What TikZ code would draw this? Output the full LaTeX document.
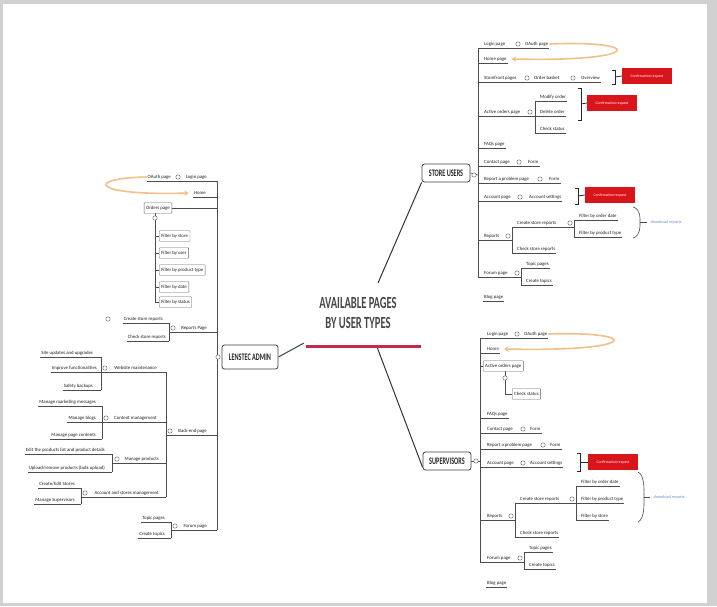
\documentclass[tikz,border=0pt]{standalone}
\usepackage{fontspec}
\setmainfont{Carlito}
\newfontfamily\titlefont[FakeStretch=0.62]{Carlito}
\usetikzlibrary{arrows, arrows.meta}
\usetikzlibrary{calc}

\definecolor{confred}{HTML}{D9141B}
\definecolor{hubred}{HTML}{C42A4C}
\definecolor{arrorange}{HTML}{F2C089}
\definecolor{sumblue}{HTML}{6F8FCB}
\definecolor{branchgreen}{HTML}{2F4A3A}

\pgfdeclarelayer{frame}
\pgfdeclarelayer{links}
\pgfsetlayers{frame,links,main}

\tikzset{
  topic/.style={font=\fontsize{4.8}{5}\selectfont, text=black!88, inner xsep=1pt, inner ysep=1.4pt, text height=3.4pt, text depth=1.1pt},
  rtopic/.style={topic, anchor=west},
  ltopic/.style={topic, anchor=east},
  boxtopic/.style={topic, draw=black!60, line width=0.45pt, rounded corners=0.6pt, inner xsep=2pt, inner ysep=3pt},
  fold/.style={circle, draw=black!60, fill=white, line width=0.45pt, inner sep=0pt, minimum size=4.4pt},
  link/.style={draw=black!70, line width=0.6pt},
  usertype/.style={draw=black!75, line width=0.8pt, fill=white, rounded corners=2.5pt, font={\titlefont\bfseries\fontsize{10}{11}\selectfont}, text=black!85, minimum width=48pt, minimum height=18pt},
  confirm/.style={fill=confred, text=white, font=\fontsize{3.8}{4}\selectfont, minimum width=50pt, minimum height=16.5pt, inner sep=1pt},
  sumtext/.style={font=\fontsize{4.3}{5}\selectfont, text=sumblue, anchor=west},
  brk/.style={draw=black!85, line width=0.8pt},
  back/.style={draw=arrorange, line width=1.6pt, -{Stealth[length=4.5pt,width=5.5pt]}},
  branch/.style={draw=black!80, line width=1pt},
  title/.style={align=center, font={\titlefont\bfseries\fontsize{17}{20}\selectfont}, text=black!72}
}

\begin{document}
\begin{tikzpicture}[x=1pt, y=-1pt]
\useasboundingbox (0,0) rectangle (717,606);
\begin{pgfonlayer}{frame}
  \fill[black!18] (0,0) rectangle (717,606);
  \fill[white] (3,4) rectangle (707,603);
\end{pgfonlayer}

% centre
\node[title] (title) at (358,313) {AVAILABLE PAGES\\BY USER TYPES};
\coordinate (hubL) at (306,346);
\coordinate (hubR) at (421,346);
\coordinate (hubSU) at (378,283);
\coordinate (hubSV) at (377,347);
\coordinate (hubLA) at (304,343);
\draw[draw=hubred, line width=3pt] (hubL) -- (hubR);

% store users
\node[usertype] (su) at (446,173) {STORE USERS};
\node[fold] (suF) at (474,175) {};
\coordinate (suSp) at (478,0);

\node[rtopic] (sLogin) at (483,44) {Login page};
\node[fold] (sLoginF) at (518,44) {};
\node[rtopic] (sOAuth) at (524,44) {OAuth page};
\node[rtopic] (sHome) at (483,59) {Home page};
\node[rtopic] (sFront) at (483,78) {Storefront pages};
\node[fold] (sFrontF) at (527,78) {};
\node[rtopic] (sBasket) at (533,78) {Order basket};
\node[fold] (sBasketF) at (573,78) {};
\node[rtopic] (sOver) at (580,78) {Overview};
\node[confirm] (sConf1) at (647,76) {Confirmation request};
\node[rtopic] (sActive) at (483,112) {Active orders page};
\node[fold] (sActiveF) at (530,112) {};
\coordinate (sActS) at (535,0);
\node[rtopic] (sModify) at (539,97) {Modify order};
\node[rtopic] (sDelete) at (539,112) {Delete order};
\node[rtopic] (sStatus) at (539,129) {Check status};
\node[confirm] (sConf2) at (612,103) {Confirmation request};
\node[rtopic] (sFaq) at (483,144) {FAQs page};
\node[rtopic] (sContact) at (483,162) {Contact page};
\node[fold] (sContactF) at (519,162) {};
\node[rtopic] (sForm1) at (527,162) {Form};
\node[rtopic] (sReport) at (483,179) {Report a problem page};
\node[fold] (sReportF) at (540,179) {};
\node[rtopic] (sForm2) at (548,179) {Form};
\node[rtopic] (sAccount) at (483,197) {Account page};
\node[fold] (sAccountF) at (520,197) {};
\node[rtopic] (sSettings) at (528,197) {Account settings};
\node[confirm] (sConf3) at (610,195) {Confirmation request};
\node[rtopic] (sReports) at (483,236) {Reports};
\node[fold] (sReportsF) at (508,236) {};
\coordinate (sRepS) at (512,0);
\node[rtopic] (sCreate) at (516,223) {Create store reports};
\node[fold] (sCreateF) at (570,223) {};
\coordinate (sCreS) at (574,0);
\node[rtopic] (sFdate) at (578,216) {Filter by order date};
\node[rtopic] (sFtype) at (578,233) {Filter by product type};
\node[sumtext] (sDown) at (647,222) {download reports};
\node[rtopic] (sCheckR) at (516,249) {Check store reports};
\node[rtopic] (sForum) at (483,273) {Forum page};
\node[fold] (sForumF) at (517,273) {};
\coordinate (sForS) at (521,0);
\node[rtopic] (sTopic) at (525,264) {Topic pages};
\node[rtopic] (sCreateT) at (525,281) {Create topics};
\node[rtopic] (sBlog) at (483,297) {Blog page};

% supervisors
\node[usertype] (sv) at (447,461) {SUPERVISORS};
\node[fold] (svF) at (476,461) {};
\coordinate (svSp) at (480,0);

\node[rtopic] (vLogin) at (486,334) {Login page};
\node[fold] (vLoginF) at (517,334) {};
\node[rtopic] (vOAuth) at (523,334) {OAuth page};
\node[rtopic] (vHome) at (486,349) {Home};
\node[boxtopic, anchor=west] (vActive) at (483,366) {Active orders page};
\node[fold] (vActiveF) at (505,378) {};
\node[boxtopic, anchor=west] (vStatus) at (512,394) {Check status};
\node[rtopic] (vFaq) at (486,414) {FAQs page};
\node[rtopic] (vContact) at (486,429) {Contact page};
\node[fold] (vContactF) at (523,429) {};
\node[rtopic] (vForm1) at (529,429) {Form};
\node[rtopic] (vReport) at (486,445) {Report a problem page};
\node[fold] (vReportF) at (543,445) {};
\node[rtopic] (vForm2) at (549,445) {Form};
\node[rtopic] (vAccount) at (486,463) {Account page};
\node[fold] (vAccountF) at (523,463) {};
\node[rtopic] (vSettings) at (529,463) {Account settings};
\node[confirm] (vConf) at (613,462) {Confirmation request};
\node[rtopic] (vReports) at (486,516) {Reports};
\node[fold] (vReportsF) at (511,516) {};
\coordinate (vRepS) at (515,0);
\node[rtopic] (vCreate) at (519,499) {Create store reports};
\node[fold] (vCreateF) at (572,499) {};
\coordinate (vCreS) at (576,0);
\node[rtopic] (vFdate) at (580,482) {Filter by order date};
\node[rtopic] (vFtype) at (580,499) {Filter by product type};
\node[rtopic] (vFstore) at (580,516) {Filter by store};
\node[sumtext] (vDown) at (650,497) {download reports};
\node[rtopic] (vCheckR) at (519,533) {Check store reports};
\node[rtopic] (vForum) at (486,558) {Forum page};
\node[fold] (vForumF) at (520,558) {};
\coordinate (vForS) at (524,0);
\node[rtopic] (vTopic) at (528,548) {Topic pages};
\node[rtopic] (vCreateT) at (528,565) {Create topics};
\node[rtopic] (vBlog) at (486,583) {Blog page};

% lenstec admin
\node[usertype, minimum width=56pt, minimum height=24pt] (la) at (250,357) {LENSTEC ADMIN};
\node[fold] (laF) at (218,357) {};
\coordinate (laSp) at (217,0);

\node[ltopic] (lLogin) at (208,177) {Login page};
\node[fold] (lLoginF) at (178,177) {};
\node[ltopic] (lOAuth) at (172,177) {OAuth page};
\node[ltopic] (lHome) at (207,193) {Home};
\node[boxtopic, anchor=east] (lOrders) at (172,208) {Orders page};
\node[fold] (lOrdersF) at (155,218) {};
\coordinate (lOrdS) at (155,0);
\node[boxtopic, anchor=west] (lFstore) at (159,236) {Filter by store};
\node[boxtopic, anchor=west] (lFuser) at (159,253) {Filter by user};
\node[boxtopic, anchor=west] (lFtype) at (159,270) {Filter by product type};
\node[boxtopic, anchor=west] (lFdate) at (159,287) {Filter by date};
\node[boxtopic, anchor=west] (lFstatus) at (159,302) {Filter by status};
\node[ltopic] (lReports) at (208,328) {Reports Page};
\node[fold] (lReportsF) at (173,328) {};
\coordinate (lRepS) at (169,0);
\node[ltopic] (lCreate) at (164,319) {Create store reports};
\node[fold] (lCreateF) at (108,319) {};
\node[ltopic] (lCheckR) at (167,337) {Check store reports};
\node[ltopic] (lBack) at (208,431) {Back-end page};
\node[fold] (lBackF) at (170,431) {};
\coordinate (lBackS) at (166,0);
\node[ltopic] (lWeb) at (158,368) {Website maintenance};
\node[fold] (lWebF) at (105,368) {};
\coordinate (lWebS) at (101,0);
\node[ltopic] (lSite) at (94,353) {Site updates and upgrades};
\node[ltopic] (lImprove) at (98,368) {Improve functionalities};
\node[ltopic] (lSafety) at (94,386) {Safety backups};
\node[ltopic] (lContent) at (158,418) {Content management};
\node[fold] (lContentF) at (106,418) {};
\coordinate (lConS) at (102,0);
\node[ltopic] (lMarket) at (97,402) {Manage marketing messages};
\node[ltopic] (lBlogs) at (97,418) {Manage blogs};
\node[ltopic] (lPage) at (97,435) {Manage page contents};
\node[ltopic] (lProducts) at (160,459) {Manage products};
\node[fold] (lProductsF) at (117,459) {};
\coordinate (lProS) at (112,0);
\node[ltopic] (lEdit) at (106,450) {Edit the products list and product details};
\node[ltopic] (lUpload) at (106,468) {Upload/remove products (bulk upload)};
\node[ltopic] (lAccount) at (160,493) {Account and stores management};
\node[fold] (lAccountF) at (85,493) {};
\coordinate (lAccS) at (81,0);
\node[ltopic] (lStores) at (76,484) {Create/Edit Stores};
\node[ltopic] (lSup) at (76,500) {Manage Supervisors};
\node[ltopic] (lForum) at (208,526) {Forum page};
\node[fold] (lForumF) at (175,526) {};
\coordinate (lForS) at (171,0);
\node[ltopic] (lTopic) at (166,518) {Topic pages};
\node[ltopic] (lCreateT) at (166,534) {Create topics};

\begin{pgfonlayer}{links}
  % branches from the centre
  \draw[branch] (hubSU) -- (su.south west);
  \draw[branch] (hubSV) -- ([yshift=3pt]sv.south west);
  \draw[branch, draw=branchgreen] (hubLA) -- (la.east);

  % store users
  \draw[link] (su.east) -- (suSp |- suF);
  \draw[link] (suSp |- sLogin.south) -- (suSp |- sForum.south);
  \foreach \a/\b in {sLogin/sOAuth, sHome/sHome, sFront/sOver, sFaq/sFaq, sContact/sForm1, sReport/sForm2, sAccount/sSettings}
    \draw[link] (suSp |- \a.south) -- (\b.south east);
  \draw[link] (suSp |- sActive.south) -- (sActS |- sActive.south);
  \draw[link] (sActS |- sModify.south) -- (sActS |- sStatus.south);
  \foreach \c in {sModify, sDelete, sStatus}
    \draw[link] (sActS |- \c.south) -- (\c.south east);
  \draw[link] (suSp |- sReports.south) -- (sRepS |- sReports.south);
  \draw[link] (sRepS |- sCreate.south) -- (sRepS |- sCheckR.south);
  \foreach \c in {sCreate, sCheckR}
    \draw[link] (sRepS |- \c.south) -- (\c.south east);
  \draw[link] (sCreate.south east) -- (sCreS |- sCreate.south);
  \draw[link] (sCreS |- sFdate.south) -- (sCreS |- sFtype.south);
  \foreach \c in {sFdate, sFtype}
    \draw[link] (sCreS |- \c.south) -- (\c.south east);
  \draw[link] (suSp |- sForum.south) -- (sForS |- sForum.south);
  \draw[link] (sForS |- sTopic.south) -- (sForS |- sCreateT.south);
  \foreach \c in {sTopic, sCreateT}
    \draw[link] (sForS |- \c.south) -- (\c.south east);
  \draw[link] (sBlog.south west) -- (sBlog.south east);

  % supervisors
  \draw[link] (sv.east) -- (svSp |- svF);
  \draw[link] (svSp |- vLogin.south) -- (svSp |- vForum.south);
  \foreach \a/\b in {vLogin/vOAuth, vHome/vHome, vFaq/vFaq, vContact/vForm1, vReport/vForm2, vAccount/vSettings}
    \draw[link] (svSp |- \a.south) -- (\b.south east);
  \draw[link] (svSp |- vActive.west) -- (vActive.west);
  \draw[link] (vActive.south -| vActiveF) -- (vActiveF.north);
  \draw[link] (vActiveF.south) |- (vStatus.west);
  \draw[link] (svSp |- vReports.south) -- (vRepS |- vReports.south);
  \draw[link] (vRepS |- vCreate.south) -- (vRepS |- vCheckR.south);
  \foreach \c in {vCreate, vCheckR}
    \draw[link] (vRepS |- \c.south) -- (\c.south east);
  \draw[link] (vCreate.south east) -- (vCreS |- vCreate.south);
  \draw[link] (vCreS |- vFdate.south) -- (vCreS |- vFstore.south);
  \foreach \c in {vFdate, vFtype, vFstore}
    \draw[link] (vCreS |- \c.south) -- (\c.south east);
  \draw[link] (svSp |- vForum.south) -- (vForS |- vForum.south);
  \draw[link] (vForS |- vTopic.south) -- (vForS |- vCreateT.south);
  \foreach \c in {vTopic, vCreateT}
    \draw[link] (vForS |- \c.south) -- (\c.south east);
  \draw[link] (vBlog.south west) -- (vBlog.south east);

  % lenstec admin
  \draw[link] (laSp |- lLogin.south) -- (laSp |- lForum.south);
  \foreach \a/\b in {lLogin/lOAuth, lHome/lHome}
    \draw[link] (\b.south west) -- (laSp |- \a.south);
  \draw[link] (lOrders.east) -- (laSp |- lOrders.east);
  \draw[link] (lOrders.south -| lOrdersF) -- (lOrdersF.north);
  \draw[link] (lOrdersF.south) -- (lOrdS |- lFstatus.west);
  \foreach \c in {lFstore, lFuser, lFtype, lFdate, lFstatus}
    \draw[link] (lOrdS |- \c.west) -- (\c.west);
  \draw[link] (lRepS |- lReports.south) -- (laSp |- lReports.south);
  \draw[link] (lRepS |- lCreate.south) -- (lRepS |- lCheckR.south);
  \foreach \c in {lCreate, lCheckR}
    \draw[link] (\c.south west) -- (lRepS |- \c.south);
  \draw[link] (lBackS |- lBack.south) -- (laSp |- lBack.south);
  \draw[link] (lBackS |- lWeb.south) -- (lBackS |- lAccount.south);
  \draw[link] (lWebS |- lWeb.south) -- (lBackS |- lWeb.south);
  \draw[link] (lConS |- lContent.south) -- (lBackS |- lContent.south);
  \draw[link] (lProS |- lProducts.south) -- (lBackS |- lProducts.south);
  \draw[link] (lAccS |- lAccount.south) -- (lBackS |- lAccount.south);
  \draw[link] (lWebS |- lSite.south) -- (lWebS |- lSafety.south);
  \foreach \c in {lSite, lImprove, lSafety}
    \draw[link] (\c.south west) -- (lWebS |- \c.south);
  \draw[link] (lConS |- lMarket.south) -- (lConS |- lPage.south);
  \foreach \c in {lMarket, lBlogs, lPage}
    \draw[link] (\c.south west) -- (lConS |- \c.south);
  \draw[link] (lProS |- lEdit.south) -- (lProS |- lUpload.south);
  \foreach \c in {lEdit, lUpload}
    \draw[link] (\c.south west) -- (lProS |- \c.south);
  \draw[link] (lAccS |- lStores.south) -- (lAccS |- lSup.south);
  \foreach \c in {lStores, lSup}
    \draw[link] (\c.south west) -- (lAccS |- \c.south);
  \draw[link] (lForS |- lForum.south) -- (laSp |- lForum.south);
  \draw[link] (lForS |- lTopic.south) -- (lForS |- lCreateT.south);
  \foreach \c in {lTopic, lCreateT}
    \draw[link] (\c.south west) -- (lForS |- \c.south);
\end{pgfonlayer}

% brackets to the confirmation requests
\coordinate (sB1) at (615,77);
\draw[brk] (sB1) ++(-3,-7) -- ++(3,0) -- ++(0,14) -- ++(-3,0);
\draw[brk] (sB1) -- (sConf1.west);
\coordinate (sB2) at (581,104);
\draw[brk] (sB2) ++(-3,-16) -- ++(3,0) -- ++(0,32) -- ++(-3,0);
\draw[brk] (sB2) -- (sConf2.west);
\coordinate (sB3) at (578,196);
\draw[brk] (sB3) ++(-3,-8) -- ++(3,0) -- ++(0,16) -- ++(-3,0);
\draw[brk] (sB3) -- (sConf3.west);
\coordinate (vB1) at (580,462);
\draw[brk] (vB1) ++(-3,-9) -- ++(3,0) -- ++(0,18) -- ++(-3,0);
\draw[brk] (vB1) -- (vConf.west);

% summaries
\coordinate (sSum) at (640,222);
\draw[link] (633,207) .. controls (641,209) and (640,219) .. (sSum) .. controls (640,225) and (641,236) .. (633,238);
\draw[link] (sSum) -- (sDown.west);
\coordinate (vSum) at (644,497);
\draw[link] (638,472) .. controls (645,475) and (644,492) .. (vSum) .. controls (644,502) and (645,519) .. (638,522);
\draw[link] (vSum) -- (vDown.west);

% back to home
\draw[back] (sOAuth.east) .. controls (645,40) and (645,62) .. ([xshift=4pt]sHome.east);
\draw[back] (vOAuth.east) .. controls (642,331) and (642,352) .. ([xshift=4pt]vHome.east);
\draw[back] (lOAuth.west) .. controls (85,178) and (90,196) .. ([xshift=-4pt]lHome.west);
\end{tikzpicture}
\end{document}
